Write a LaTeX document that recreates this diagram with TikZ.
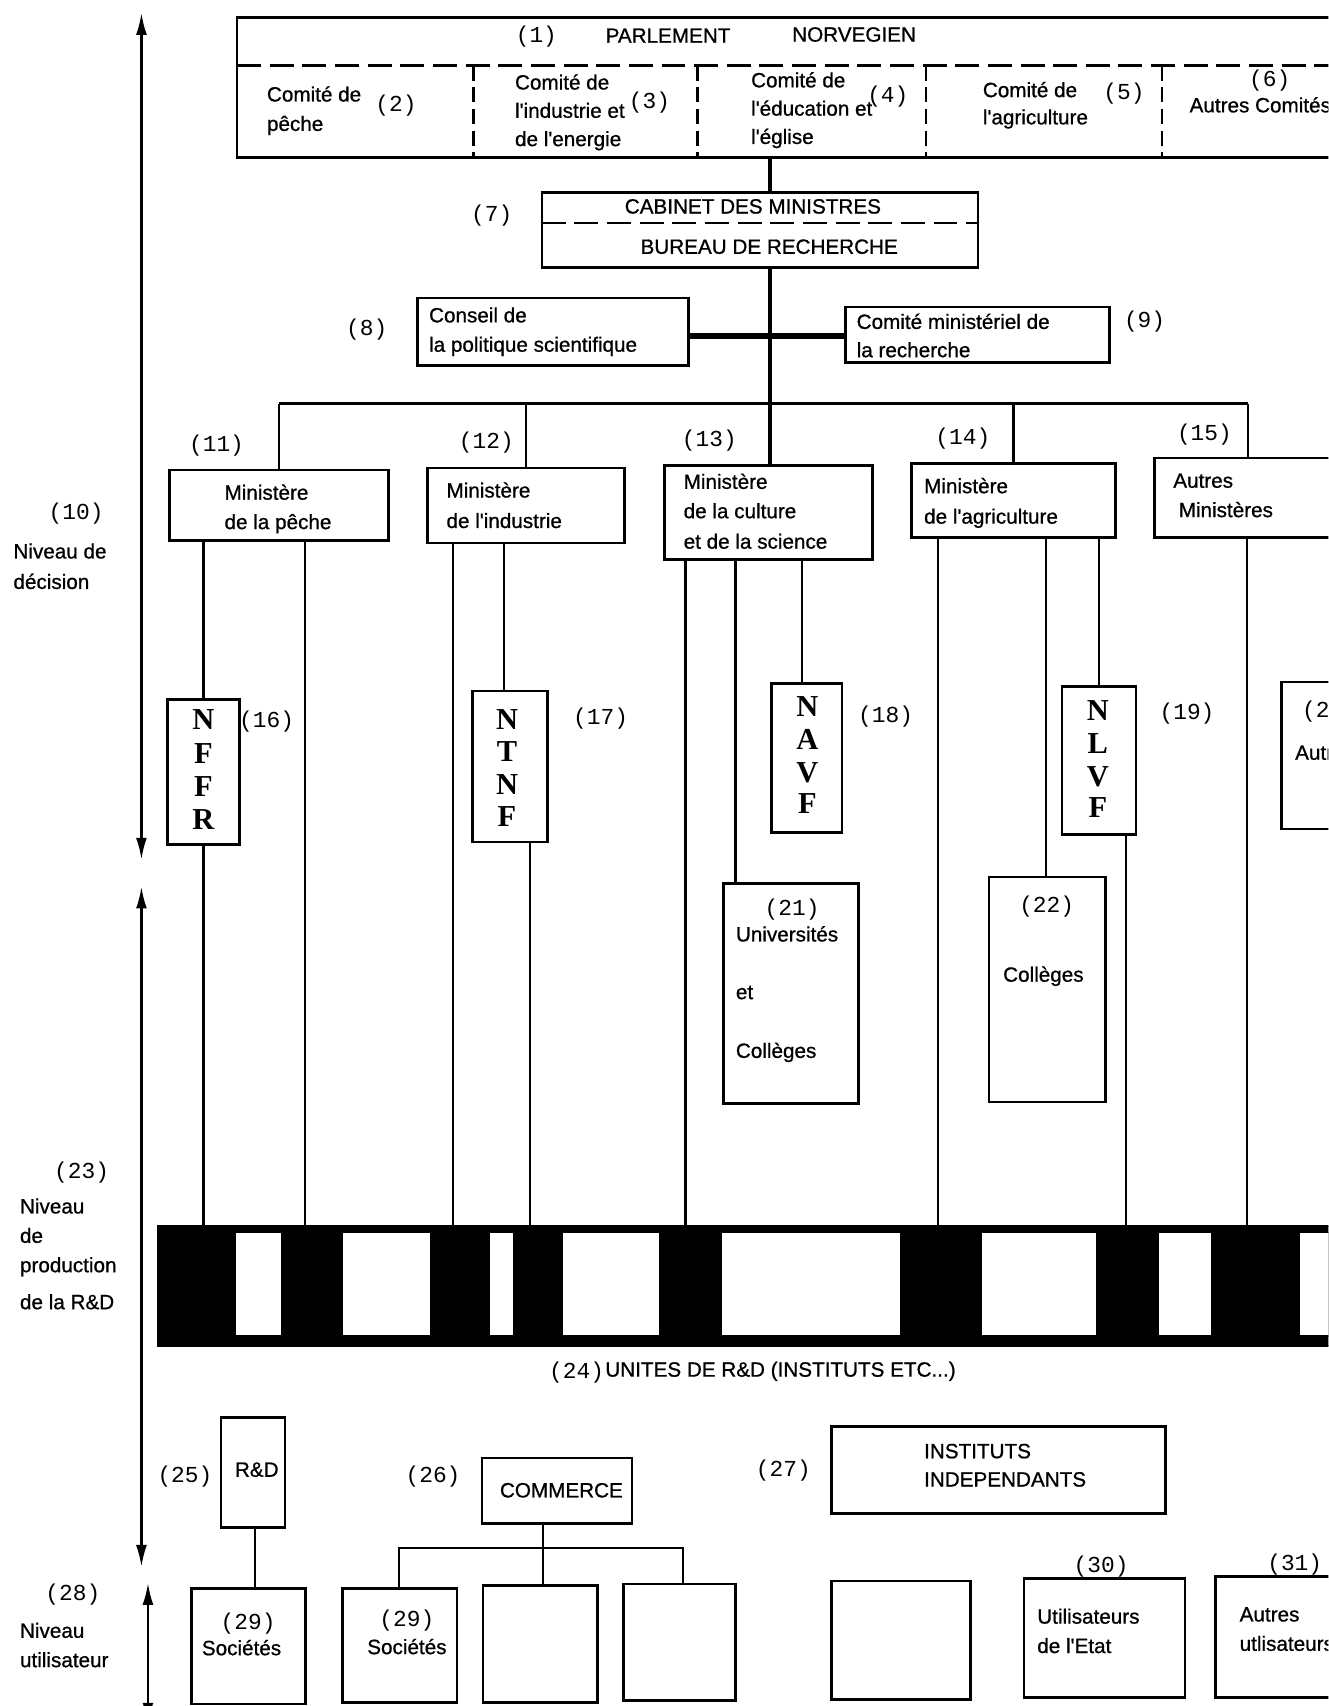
\documentclass[tikz,border=0pt]{standalone}
\usepackage{fontspec}
\setmainfont{Liberation Sans}
\newfontfamily\sfh{Liberation Sans}[FakeBold=0.8]
\newfontfamily\numf{Liberation Mono}
\newfontfamily\letf{Liberation Serif}
\usetikzlibrary{arrows.meta}
\newcommand\bx[5]{\node[box, minimum width={(#4-#2)*0.5pt}, minimum height={(#5-#3)*0.5pt}] (#1) at ({(#2+#4)/2},{(#3+#5)/2}) {};}
\newcommand\xc[1]{\coordinate (x#1) at (#1,0);}
\begin{document}
\begin{tikzpicture}[x=0.5pt,y=-0.5pt,
  box/.style={draw, line width=1.2pt, inner sep=0pt, outer sep=0pt, fill=white},
  lbl/.style={font=\sfh\fontsize{9.5}{11}\selectfont, anchor=mid west, inner sep=0pt},
  lblc/.style={font=\sfh\fontsize{9.5}{11}\selectfont, anchor=mid, inner sep=0pt},
  num/.style={font=\numf\fontsize{10.5}{12}\selectfont, anchor=mid, inner sep=0pt},
  letr/.style={font=\letf\bfseries\fontsize{14}{16}\selectfont, anchor=mid, inner sep=0pt},
  conn/.style={line width=1pt},
  thickconn/.style={line width=2pt},
  dash1/.style={line width=1.2pt, dash pattern=on 11pt off 4pt},
  dash2/.style={line width=1.2pt, dash pattern=on 7pt off 3pt},
  dbl/.style={line width=1pt, {Latex[length=10pt,width=5pt]}-{Latex[length=10pt,width=5pt]}}
]
\useasboundingbox (0,0) rectangle (1221,1568);
\clip (0,0) rectangle (1221,1568);
\fill[white] (0,0) rectangle (1221,1568);

% x coordinates used by connectors
\xc{280}\xc{416}\xc{463}\xc{487}\xc{630}\xc{676}\xc{737}\xc{862}\xc{961}\xc{1010}\xc{1035}\xc{1146}\xc{1147}\xc{708}\xc{367}\xc{499}\xc{628}\xc{234}
\coordinate (ybus) at (0,371);
\coordinate (ycons) at (0,309);
\coordinate (ycom) at (0,1423);

% left arrows
\coordinate (a1t) at (130,12); \coordinate (a1b) at (130,790);
\coordinate (a2t) at (130,815); \coordinate (a2b) at (130,1440);
\coordinate (a3t) at (136,1455); \coordinate (a3b) at (136,1585);
\draw[dbl] (a1t) -- (a1b);
\draw[dbl] (a2t) -- (a2b);
\draw[dbl] (a3t) -- (a3b);

\node[num] (n10) at (70,472) {(10)};
\node[lbl] (t10a) at (12,508) {Niveau de};
\node[lbl] (t10b) at (12,536) {décision};
\node[num] (n23) at (75,1078) {(23)};
\node[lbl] (t23a) at (18,1110) {Niveau};
\node[lbl] (t23b) at (18,1137) {de};
\node[lbl] (t23c) at (18,1164) {production};
\node[lbl] (t23d) at (18,1198) {de la R\&D};
\node[num] (n28) at (67,1466) {(28)};
\node[lbl] (t28a) at (18,1500) {Niveau};
\node[lbl] (t28b) at (18,1527) {utilisateur};

% parliament
\bx{par}{218}{16}{1400}{145}
\coordinate (pd1) at (218,60); \coordinate (pd2) at (1400,60);
\draw[dash1] (pd1) -- (pd2);
\foreach \i/\x in {1/435,2/641,3/851,4/1068}{
  \coordinate (dv\i t) at (\x,60); \coordinate (dv\i b) at (\x,145);
  \draw[dash2] (dv\i t) -- (dv\i b);
}
\node[num] (n1) at (493,34) {(1)};
\node[lblc] (t1a) at (614,34) {PARLEMENT};
\node[lblc] (t1b) at (785,33) {NORVEGIEN};
\node[lbl] (t2a) at (245,88) {Comité de};
\node[lbl] (t2b) at (245,115) {pêche};
\node[num] (n2) at (364,97) {(2)};
\node[lbl] (t3a) at (473,77) {Comité de};
\node[lbl] (t3b) at (473,103) {l'industrie et};
\node[lbl] (t3c) at (473,129) {de l'energie};
\node[num] (n3) at (597,94) {(3)};
\node[lbl] (t4a) at (690,75) {Comité de};
\node[lbl] (t4b) at (690,101) {l'éducation et};
\node[lbl] (t4c) at (690,127) {l'église};
\node[num] (n4) at (816,89) {(4)};
\node[lbl] (t5a) at (903,84) {Comité de};
\node[lbl] (t5b) at (903,109) {l'agriculture};
\node[num] (n5) at (1033,86) {(5)};
\node[num] (n6) at (1167,74) {(6)};
\node[lbl] (t6) at (1093,98) {Autres Comités};

% cabinet
\bx{cab}{498}{177}{899}{246}
\coordinate (cd1) at (498,205); \coordinate (cd2) at (899,205);
\draw[dash1] (cd1) -- (cd2);
\node[lblc] (t7a) at (692,191) {CABINET DES MINISTRES};
\node[lblc] (t7b) at (707,228) {BUREAU DE RECHERCHE};
\node[num] (n7) at (452,198) {(7)};
\draw[thickconn] (par.south -| x708) -- (cab.north -| x708);

% councils
\bx{cons}{384}{274}{633}{336}
\node[lbl] (t8a) at (394,291) {Conseil de};
\node[lbl] (t8b) at (394,318) {la politique scientifique};
\node[num] (n8) at (337,303) {(8)};
\bx{crm}{777}{282}{1020}{333}
\node[lbl] (t9a) at (787,297) {Comité ministériel de};
\node[lbl] (t9b) at (787,323) {la recherche};
\node[num] (n9) at (1052,296) {(9)};
\draw[line width=3pt] (cons.east |- ycons) -- (crm.west |- ycons);

% ministries
\bx{b11}{156}{432}{357}{497}
\node[lbl] (t11a) at (206,454) {Ministère};
\node[lbl] (t11b) at (206,481) {de la pêche};
\node[num] (n11) at (199,410) {(11)};
\bx{b12}{393}{430}{574}{499}
\node[lbl] (t12a) at (410,452) {Ministère};
\node[lbl] (t12b) at (410,480) {de l'industrie};
\node[num] (n12) at (447,407) {(12)};
\bx{b13}{611}{428}{802}{514}
\node[lbl] (t13a) at (628,444) {Ministère};
\node[lbl] (t13b) at (628,471) {de la culture};
\node[lbl] (t13c) at (628,499) {et de la science};
\node[num] (n13) at (652,405) {(13)};
\bx{b14}{838}{426}{1025}{494}
\node[lbl] (t14a) at (849,448) {Ministère};
\node[lbl] (t14b) at (849,476) {de l'agriculture};
\node[num] (n14) at (885,403) {(14)};
\bx{b15}{1061}{421}{1300}{494}
\node[lbl] (t15a) at (1078,443) {Autres};
\node[lbl] (t15b) at (1083,470) {Ministères};
\node[num] (n15) at (1107,400) {(15)};

\draw[thickconn] (cab.south -| x708) -- (b13.north -| x708);
\draw[line width=1.5pt] (b11.north |- ybus) -- (x1147 |- ybus);
\draw[conn] (b11.north |- ybus) -- (b11.north);
\draw[conn] (b12.north |- ybus) -- (b12.north);
\draw[conn] (b14.north |- ybus) -- (b14.north);
\draw[conn] (x1147 |- ybus) -- (b15.north -| x1147);

% councils (letter boxes)
\bx{nffr}{154}{643}{220}{776}
\foreach \l/\y [count=\k] in {N/665,F/696,F/727,R/757}{\node[letr] (nffr\k) at (187,\y) {\l};}
\node[num] (n16) at (245,663) {(16)};
\bx{ntnf}{434}{635}{503}{774}
\foreach \l/\y [count=\k] in {N/665,T/695,N/725,F/754}{\node[letr] (ntnf\k) at (466,\y) {\l};}
\node[num] (n17) at (552,661) {(17)};
\bx{navf}{709}{628}{774}{765}
\foreach \l/\y [count=\k] in {N/653,A/684,V/714,F/742}{\node[letr] (navf\k) at (742,\y) {\l};}
\node[num] (n18) at (814,659) {(18)};
\bx{nlvf}{976}{631}{1044}{767}
\foreach \l/\y [count=\k] in {N/657,L/687,V/718,F/746}{\node[letr] (nlvf\k) at (1009,\y) {\l};}
\node[num] (n19) at (1091,656) {(19)};
\bx{b20}{1178}{627}{1300}{762}
\node[num] (n20) at (1222,654) {(20)};
\node[lbl] (t20) at (1190,693) {Autres};

% universities / colleges
\bx{univ}{665}{812}{789}{1014}
\node[num] (n21) at (728,836) {(21)};
\node[lbl] (t21a) at (676,860) {Universités};
\node[lbl] (t21b) at (676,913) {et};
\node[lbl] (t21c) at (676,967) {Collèges};
\bx{coll}{909}{806}{1016}{1013}
\node[num] (n22) at (962,833) {(22)};
\node[lblc] (t22) at (959,897) {Collèges};

% R&D units band
\node[draw, fill=black, line width=1pt, inner sep=0pt, outer sep=0pt, minimum width={(1400-145)*0.5pt}, minimum height={(1237-1127)*0.5pt}] (bar) at ({(145+1400)/2},{(1127+1237)/2}) {};
\foreach \a/\b [count=\k] in {216/259,315/396,450/472,517/606,663/828,902/1008,1065/1114,1194/1400}{
  \node[fill=white, draw, line width=0.6pt, inner sep=0pt, outer sep=0pt, minimum width={(\b-\a)*0.5pt}, minimum height={(1228-1133)*0.5pt}] (gap\k) at ({(\a+\b)/2},{(1133+1228)/2}) {};
}

\draw[conn] (b11.south -| nffr.north) -- (nffr.north);
\draw[conn] (nffr.south) -- (bar.north -| nffr.south);
\draw[conn] (b11.south -| x280) -- (bar.north -| x280);
\draw[conn] (b12.south -| x416) -- (bar.north -| x416);
\draw[conn] (b12.south -| x463) -- (ntnf.north -| x463);
\draw[conn] (ntnf.south -| x487) -- (bar.north -| x487);
\draw[conn] (b13.south -| x630) -- (bar.north -| x630);
\draw[conn] (b13.south -| x676) -- (univ.north -| x676);
\draw[conn] (b13.south -| x737) -- (navf.north -| x737);
\draw[conn] (b14.south -| x862) -- (bar.north -| x862);
\draw[conn] (b14.south -| x961) -- (coll.north -| x961);
\draw[conn] (b14.south -| x1010) -- (nlvf.north -| x1010);
\draw[conn] (nlvf.south -| x1035) -- (bar.north -| x1035);
\draw[conn] (b15.south -| x1146) -- (bar.north -| x1146);

\node[num] (n24) at (530,1262) {(24)};
\node[lbl] (t24) at (556,1260) {UNITES DE R\&D (INSTITUTS ETC...)};

% bottom
\bx{rd}{203}{1303}{262}{1404}
\node[lblc] (trd) at (236,1352) {R\&D};
\node[num] (n25) at (170,1357) {(25)};
\bx{soc1}{176}{1460}{281}{1566}
\node[num] (n29a) at (228,1492) {(29)};
\node[lblc] (ts1) at (222,1516) {Sociétés};
\draw[conn] (rd.south -| x234) -- (soc1.north -| x234);

\bx{comm}{443}{1340}{581}{1400}
\node[lblc] (tcomm) at (516,1371) {COMMERCE};
\node[num] (n26) at (398,1357) {(26)};
\bx{soc2}{315}{1460}{420}{1565}
\node[num] (n29b) at (374,1490) {(29)};
\node[lblc] (ts2) at (374,1515) {Sociétés};
\bx{e1}{444}{1457}{549}{1565}
\bx{e2}{573}{1456}{676}{1563}
\draw[conn] (comm.south -| x499) -- (e1.north -| x499);
\draw[conn] (soc2.north -| x367) -- (x367 |- ycom) -- (x628 |- ycom) -- (e2.north -| x628);

\bx{inst}{764}{1311}{1071}{1391}
\node[lbl] (ti1) at (849,1335) {INSTITUTS};
\node[lbl] (ti2) at (849,1361) {INDEPENDANTS};
\node[num] (n27) at (720,1352) {(27)};
\bx{e3}{764}{1453}{892}{1562}
\bx{util}{941}{1451}{1089}{1560}
\node[num] (n30) at (1012,1440) {(30)};
\node[lbl] (tu1) at (953,1487) {Utilisateurs};
\node[lbl] (tu2) at (953,1514) {de l'Etat};
\bx{autr}{1117}{1449}{1300}{1560}
\node[num] (n31) at (1190,1438) {(31)};
\node[lbl] (ta1) at (1139,1485) {Autres};
\node[lbl] (ta2) at (1139,1512) {utlisateurs};
\end{tikzpicture}
\end{document}
